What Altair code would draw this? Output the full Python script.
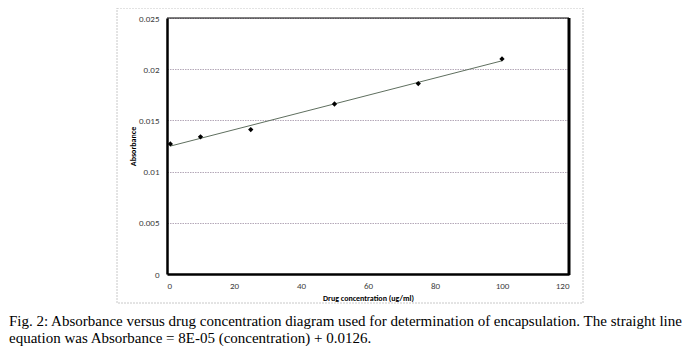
import altair as alt
import pandas as pd

# Data
concentration = [1, 10, 25, 50, 75, 100]
absorbance = [0.0127, 0.0134, 0.0141, 0.0166, 0.0186, 0.0210]

caption_lines = [
    "Fig. 2: Absorbance versus drug concentration diagram used for determination of encapsulation. The straight line",
    "equation was Absorbance = 8E-05 (concentration) + 0.0126.",
]

x_ticks = [0, 20, 40, 60, 80, 100, 120]
y_ticks = [0, 0.005, 0.01, 0.015, 0.02, 0.025]

df = pd.DataFrame({"conc": concentration, "abs": absorbance})

W, H = 402, 256
LABEL_FONT = "Carlito, Liberation Sans, sans-serif"

x_enc = alt.X(
    "conc:Q",
    scale=alt.Scale(domain=[0, 120], nice=False),
    axis=alt.Axis(
        values=x_ticks,
        title="Drug concentration (ug/ml)",
        grid=False,
        ticks=False,
        domainColor="#000000",
        domainWidth=2.5,
        labelPadding=7,
        labelFont=LABEL_FONT,
        labelFontSize=9,
        labelColor="#404040",
        titleFont=LABEL_FONT,
        titleFontSize=8,
        titleFontWeight="bold",
        titleColor="#000000",
        titlePadding=4,
    ),
)
y_enc = alt.Y(
    "abs:Q",
    scale=alt.Scale(domain=[0, 0.025], nice=False),
    axis=alt.Axis(
        values=y_ticks,
        format="~g",
        title="Absorbance",
        grid=True,
        gridColor="#b4a8b8",
        gridDash=[1.5, 1],
        gridWidth=1,
        ticks=False,
        domainColor="#000000",
        domainWidth=2.5,
        labelPadding=8,
        labelFont=LABEL_FONT,
        labelFontSize=9,
        labelColor="#404040",
        titleFont=LABEL_FONT,
        titleFontSize=8,
        titleFontWeight="bold",
        titleColor="#000000",
        titlePadding=1,
    ),
)

base = alt.Chart(df)

points = base.mark_point(shape="diamond", filled=True, size=28, color="#000000", opacity=1).encode(
    x=x_enc, y=y_enc
)

trend = (
    base.transform_regression("conc", "abs", method="linear")
    .mark_line(color="#5f6f5f", strokeWidth=1)
    .encode(x="conc:Q", y="abs:Q")
)

frame = alt.Chart(pd.DataFrame({"k": [0]})).mark_rect(
    fill=None, stroke="#c8c8c8", strokeWidth=1, strokeDash=[2, 1]
).encode(
    x=alt.value(-50), x2=alt.value(416), y=alt.value(-10), y2=alt.value(285)
)

top_border = alt.Chart(pd.DataFrame({"k": [0]})).mark_rule(color="#000000", strokeWidth=1).encode(
    x=alt.value(0), x2=alt.value(W), y=alt.value(0)
)
right_border = alt.Chart(pd.DataFrame({"k": [0]})).mark_rule(color="#000000", strokeWidth=3).encode(
    x=alt.value(W), y=alt.value(0), y2=alt.value(H + 1)
)

caption = alt.Chart(pd.DataFrame({"t": ["\n".join(caption_lines)]})).mark_text(
    align="left",
    baseline="alphabetic",
    font="Liberation Serif",
    fontSize=15,
    lineBreak="\n",
    lineHeight=17,
    color="#000000",
).encode(text="t:N", x=alt.value(-158), y=alt.value(308))

chart = (
    alt.layer(frame, trend, points, top_border, right_border, caption)
    .properties(
        width=W,
        height=H,
        autosize=alt.AutoSizeParams(type="none"),
        padding={"left": 159, "top": 10, "right": 122, "bottom": 72},
    )
    .configure_view(stroke=None)
)

chart.save("out.html", embed_options={"renderer": "svg", "actions": False})
